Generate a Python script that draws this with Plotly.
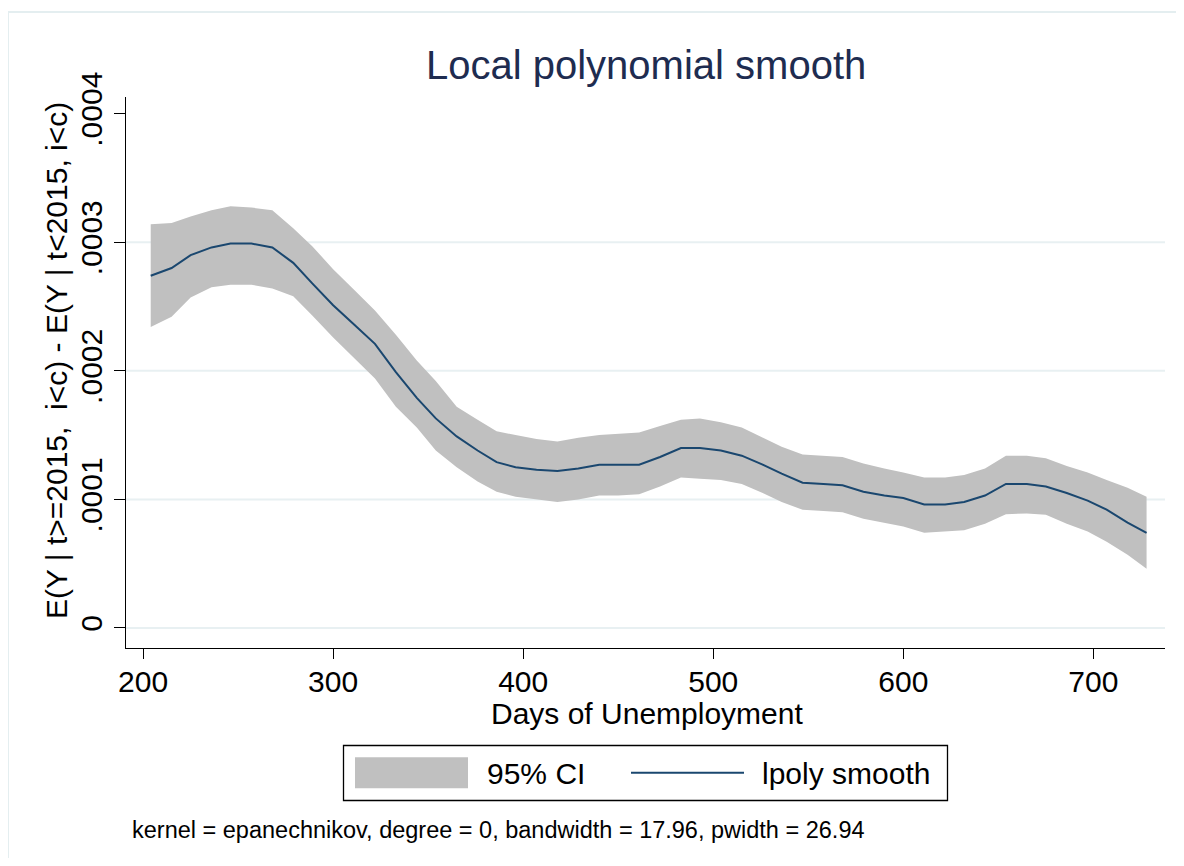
import plotly.graph_objects as go

# ---- data ----
days = [204, 215, 225, 236, 246, 257, 268, 279, 289, 300, 311, 322, 333, 344, 354,
        365, 376, 386, 396, 407, 418, 429, 440, 450, 461, 472, 483, 493, 504, 515,
        526, 536, 547, 558, 568, 579, 590, 600, 611, 622, 632, 643, 654, 665, 675,
        686, 697, 707, 718, 728]
smooth = [2.74e-4, 2.80e-4, 2.90e-4, 2.96e-4, 2.99e-4, 2.99e-4, 2.96e-4, 2.84e-4, 2.68e-4, 2.51e-4,
          2.36e-4, 2.21e-4, 1.99e-4, 1.79e-4, 1.63e-4, 1.49e-4, 1.38e-4, 1.29e-4, 1.25e-4, 1.23e-4,
          1.22e-4, 1.24e-4, 1.27e-4, 1.27e-4, 1.27e-4, 1.33e-4, 1.40e-4, 1.40e-4, 1.38e-4, 1.34e-4,
          1.27e-4, 1.20e-4, 1.13e-4, 1.12e-4, 1.11e-4, 1.06e-4, 1.03e-4, 1.01e-4, 0.96e-4, 0.96e-4,
          0.98e-4, 1.03e-4, 1.12e-4, 1.12e-4, 1.10e-4, 1.05e-4, 0.99e-4, 0.92e-4, 0.82e-4, 0.74e-4]
ci_upper = [3.14e-4, 3.15e-4, 3.20e-4, 3.25e-4, 3.28e-4, 3.27e-4, 3.25e-4, 3.11e-4, 2.97e-4, 2.79e-4,
            2.63e-4, 2.47e-4, 2.28e-4, 2.08e-4, 1.92e-4, 1.72e-4, 1.62e-4, 1.53e-4, 1.50e-4, 1.47e-4,
            1.45e-4, 1.48e-4, 1.50e-4, 1.51e-4, 1.52e-4, 1.57e-4, 1.62e-4, 1.63e-4, 1.60e-4, 1.56e-4,
            1.48e-4, 1.41e-4, 1.35e-4, 1.34e-4, 1.33e-4, 1.28e-4, 1.24e-4, 1.21e-4, 1.17e-4, 1.17e-4,
            1.19e-4, 1.24e-4, 1.34e-4, 1.34e-4, 1.32e-4, 1.26e-4, 1.21e-4, 1.15e-4, 1.09e-4, 1.02e-4]
ci_lower = [2.34e-4, 2.42e-4, 2.57e-4, 2.65e-4, 2.67e-4, 2.67e-4, 2.64e-4, 2.58e-4, 2.43e-4, 2.26e-4,
            2.10e-4, 1.94e-4, 1.72e-4, 1.56e-4, 1.38e-4, 1.25e-4, 1.14e-4, 1.06e-4, 1.02e-4, 1.00e-4,
            0.98e-4, 1.00e-4, 1.03e-4, 1.03e-4, 1.04e-4, 1.10e-4, 1.17e-4, 1.16e-4, 1.15e-4, 1.12e-4,
            1.05e-4, 0.98e-4, 0.92e-4, 0.91e-4, 0.90e-4, 0.85e-4, 0.82e-4, 0.79e-4, 0.74e-4, 0.75e-4,
            0.76e-4, 0.81e-4, 0.885e-4, 0.89e-4, 0.88e-4, 0.81e-4, 0.75e-4, 0.67e-4, 0.57e-4, 0.46e-4]

x_ticks = [200, 300, 400, 500, 600, 700]
y_ticks = [0, 0.0001, 0.0002, 0.0003, 0.0004]
y_tick_labels = ["0", ".0001", ".0002", ".0003", ".0004"]
grid_vals = [0, 0.0001, 0.0002, 0.0003]

title_text = "Local polynomial smooth"
x_title = "Days of Unemployment"
y_title = "E(Y | t>=2015,\u00a0\u00a0i<c) - E(Y | t<2015, i<c)"
legend_labels = ["95% CI", "lpoly smooth"]
note_text = "kernel = epanechnikov, degree = 0, bandwidth = 17.96, pwidth = 26.94"

# ---- style / geometry (page pixels; the page body adds an 8px margin) ----
FONT = "Liberation Sans, Arial, sans-serif"
BAND = "#c0c0c0"
NAVY = "#1a476f"
GRID = "#e8f0f2"
OFF = 8
W, H = 1184 - 2 * OFF, 866 - 2 * OFF
L, R, T, B = 126, 1165, 97, 648          # plot area in page pixels
PW, PH = R - L, B - T


def px(x):
    return (x - L) / PW


def py(y):
    return (B - y) / PH


fig = go.Figure()
fig.add_trace(go.Scatter(x=days, y=ci_lower, mode="lines", line=dict(width=0, color=BAND),
                         showlegend=False, hoverinfo="skip"))
fig.add_trace(go.Scatter(x=days, y=ci_upper, mode="lines", line=dict(width=0, color=BAND),
                         fill="tonexty", fillcolor=BAND, name=legend_labels[0], showlegend=False))
fig.add_trace(go.Scatter(x=days, y=smooth, mode="lines", line=dict(width=2, color=NAVY),
                         name=legend_labels[1], showlegend=False))

shapes = []
for g in grid_vals:
    shapes.append(dict(type="line", xref="paper", yref="y", x0=0, x1=1, y0=g, y1=g,
                       line=dict(color=GRID, width=2), layer="below"))
# outer graph-region frame
shapes.append(dict(type="line", xref="paper", yref="paper", x0=px(8), x1=px(1184), y0=py(12), y1=py(12),
                   line=dict(color="#e4eef0", width=2)))
shapes.append(dict(type="line", xref="paper", yref="paper", x0=px(8), x1=px(8), y0=py(12), y1=py(866),
                   line=dict(color="#e4eef0", width=2)))
# legend box
shapes.append(dict(type="rect", xref="paper", yref="paper", x0=px(343.5), x1=px(947.5),
                   y0=py(800.5), y1=py(745.5), line=dict(color="black", width=1.3), fillcolor="white"))
shapes.append(dict(type="rect", xref="paper", yref="paper", x0=px(355), x1=px(468),
                   y0=py(788.3), y1=py(757.3), line=dict(width=0), fillcolor=BAND))
shapes.append(dict(type="line", xref="paper", yref="paper", x0=px(631), x1=px(744),
                   y0=py(772.7), y1=py(772.7), line=dict(color=NAVY, width=2)))

annotations = [
    dict(text=title_text, x=px(646), y=py(65), xref="paper", yref="paper", showarrow=False,
         xanchor="center", yanchor="middle", font=dict(family=FONT, size=40, color="#1e2c50")),
    dict(text=x_title, x=px(647), y=py(713), xref="paper", yref="paper", showarrow=False,
         xanchor="center", yanchor="middle", font=dict(family=FONT, size=30, color="black")),
    dict(text=y_title, x=px(57), y=py(361), xref="paper", yref="paper", showarrow=False,
         textangle=-90, xanchor="center", yanchor="middle",
         font=dict(family=FONT, size=30, color="black")),
    dict(text=legend_labels[0], x=px(485), y=py(773), xref="paper", yref="paper", showarrow=False,
         xanchor="left", yanchor="middle", font=dict(family=FONT, size=30, color="black")),
    dict(text=legend_labels[1], x=px(760), y=py(773), xref="paper", yref="paper", showarrow=False,
         xanchor="left", yanchor="middle", font=dict(family=FONT, size=30, color="black")),
    dict(text=note_text, x=px(130), y=py(830), xref="paper", yref="paper", showarrow=False,
         xanchor="left", yanchor="middle", font=dict(family=FONT, size=23.5, color="black")),
]

fig.update_layout(
    width=W, height=H,
    margin=dict(l=L - OFF, r=W - (R - OFF), t=T - OFF, b=H - (B - OFF), pad=0),
    paper_bgcolor="white", plot_bgcolor="white",
    showlegend=False,
    font=dict(family=FONT, size=30, color="black"),
    shapes=shapes, annotations=annotations,
    xaxis=dict(range=[191.0, 737.7], tickmode="array", tickvals=x_ticks,
               showgrid=False, zeroline=False, showline=True, linecolor="black", linewidth=1.3,
               ticks="outside", ticklen=10, tickcolor="black", tickwidth=1.3,
               ticklabelstandoff=-3,
               tickfont=dict(family=FONT, size=30, color="black")),
    yaxis=dict(range=[-0.0000156, 0.000413], tickmode="array", tickvals=y_ticks,
               ticktext=y_tick_labels, tickangle=-90,
               showgrid=False, zeroline=False, showline=True, linecolor="black", linewidth=1.3,
               ticks="outside", ticklen=11, tickcolor="black", tickwidth=1.3,
               tickfont=dict(family=FONT, size=30, color="black")),
)

fig.write_html("out.html")
